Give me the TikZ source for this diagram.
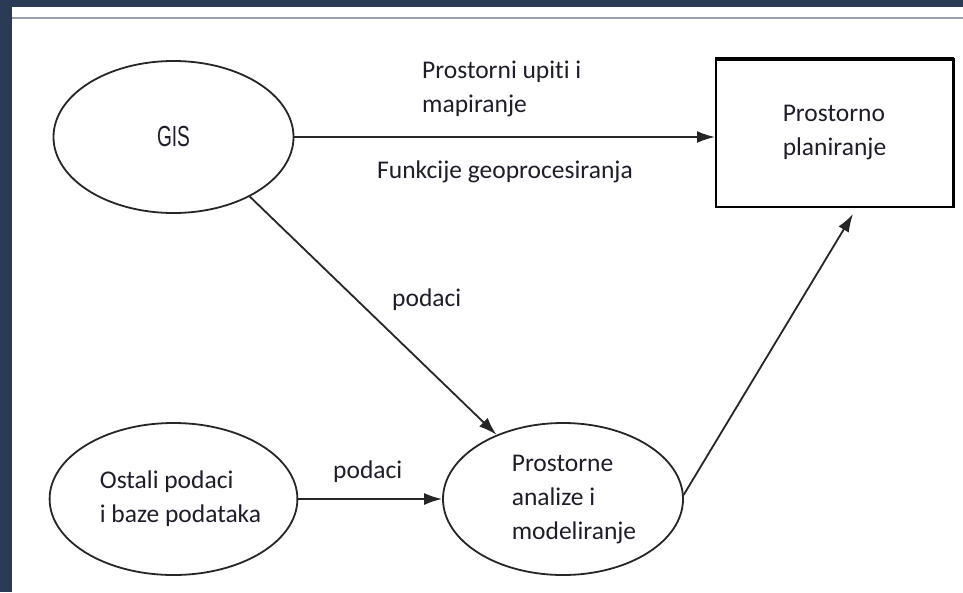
\documentclass[tikz,border=0pt]{standalone}
\usepackage{fontspec}
\usepackage{graphicx}
\setmainfont[Ligatures=NoCommon]{Carlito}
\newfontfamily\gisfont{Liberation Sans}
\usetikzlibrary{shapes.geometric,arrows.meta}
\definecolor{navy}{HTML}{2B3A55}
\definecolor{rule}{HTML}{9AA0AE}
\definecolor{txt}{HTML}{1E1E2A}
\tikzset{
  oval/.style={ellipse, draw=black!85, line width=1.8pt, minimum width=240pt, minimum height=152pt, inner sep=0pt, align=left, text=txt},
  conn/.style={line width=1.8pt, draw=black!85, -{Latex[length=18pt,width=12pt]}},
  lbl/.style={anchor=west, align=left, text=txt, inner sep=0pt},
}
\begin{document}
\begin{tikzpicture}[x=1pt,y=-1pt, font=\fontsize{25.5}{34}\selectfont]
\useasboundingbox (0,0) rectangle (963,592);
\fill[white] (0,0) rectangle (963,592);
\fill[navy] (0,0) rectangle (963,7);
\fill[navy] (0,0) rectangle (12,592);
\draw[rule, line width=1.2pt] (12,18) -- (963,18);

\node[oval] (gis) at (173.5,137) {{\gisfont\fontsize{29}{30}\selectfont\scalebox{0.66}[1]{GIS}}};
\node[oval] (ost) at (173.5,499) {\hspace*{14pt}Ostali podaci\\\hspace*{14pt}i baze podataka};
\node[oval] (pa) at (563,499) {\hspace*{22pt}Prostorne\\\hspace*{22pt}analize i\\\hspace*{22pt}modeliranje};
\node[draw=black, line width=2pt, minimum width=237pt, minimum height=148pt, inner sep=0pt, align=left, text=txt] (box) at (834.5,133) {Prostorno\\planiranje};
\draw[line width=4.5pt] ([yshift=-1pt]box.north west) -- ([yshift=-1pt]box.north east);
\draw[line width=3pt] ([xshift=-0.5pt]box.north east) -- ([xshift=-0.5pt]box.south east);

\coordinate (bt) at ([xshift=18.5pt,yshift=-6pt]box.south);

\draw[conn] (gis.east) -- (gis.east -| box.west);
\draw[conn] (gis.-38.7) -- (pa.136);
\draw[conn] (ost.east) -- (pa.west);
\draw[conn] (pa.2) -- (bt);

\node[lbl] (l1) at (422,88.5) {Prostorni upiti i\\mapiranje};
\node[lbl] (l2) at (377,172) {Funkcije geoprocesiranja};
\node[lbl] (l3) at (392,300) {podaci};
\node[lbl] (l4) at (333,472) {podaci};
\end{tikzpicture}
\end{document}
